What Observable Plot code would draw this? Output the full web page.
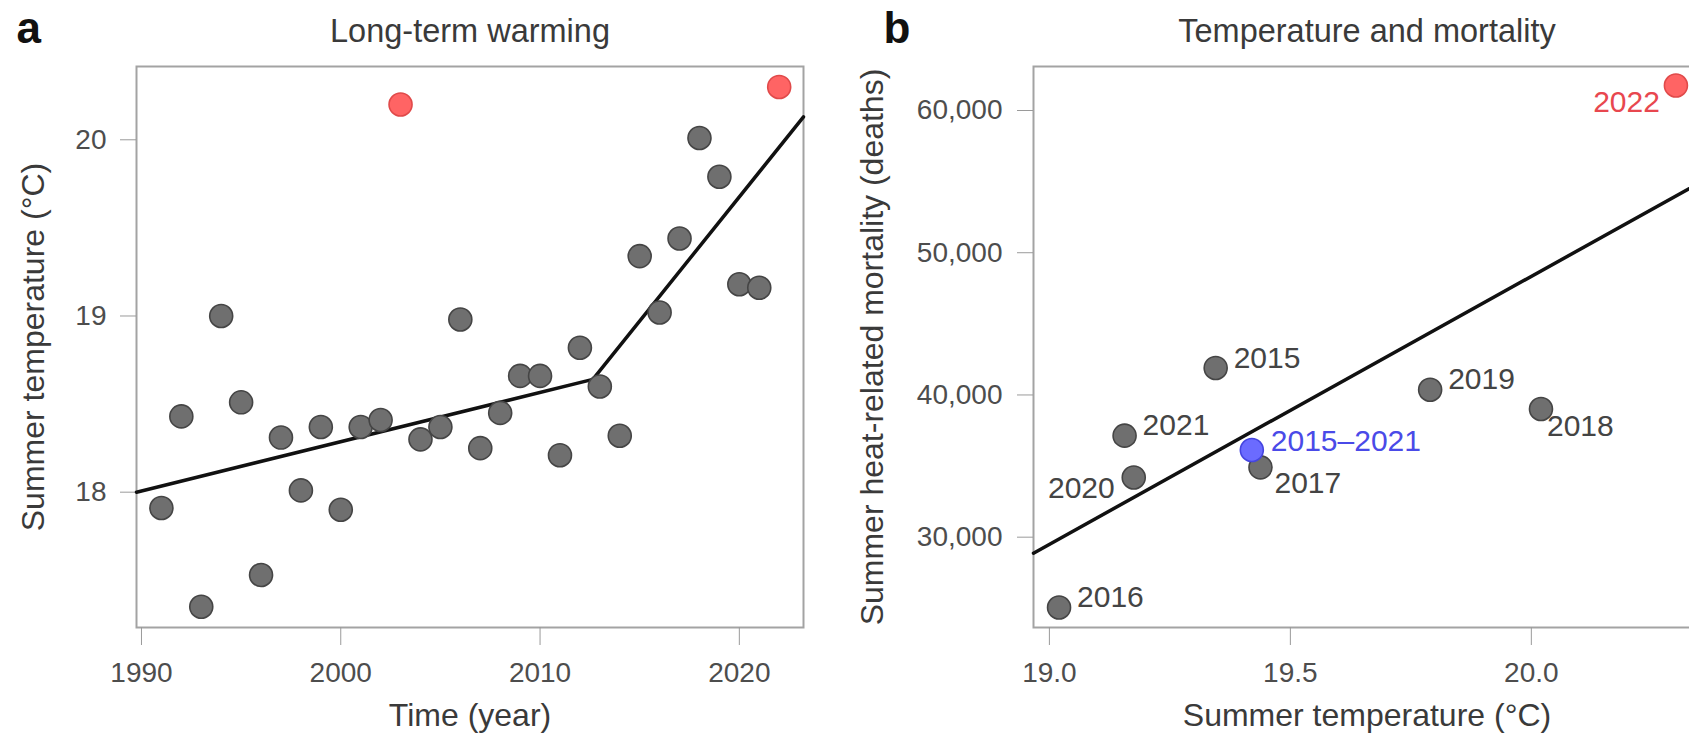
<!DOCTYPE html>
<html><head><meta charset="utf-8">
<script src="https://cdn.jsdelivr.net/npm/d3@7"></script>
<script src="https://cdn.jsdelivr.net/npm/@observablehq/plot@0.6"></script>
<style>
html,body{margin:0;padding:0;background:#fff;overflow:hidden;}
#wrap{position:relative;width:1689px;height:735px;overflow:hidden;background:#fff;}
#pa,#pb{position:absolute;top:0;}
#pa{left:0;width:845px;} #pb{left:845px;width:880px;}
#wrap svg{max-width:none !important;}
</style></head><body>
<div id="wrap"><div id="pa"></div><div id="pb"></div></div>
<script>
// ---- Panel a: long-term warming ----
const years = [1991,1992,1993,1994,1995,1996,1997,1998,1999,2000,2001,2002,2003,2004,2005,2006,2007,2008,2009,2010,2011,2012,2013,2014,2015,2016,2017,2018,2019,2020,2021,2022];
const summerTemp = [17.91,18.43,17.35,19.00,18.51,17.53,18.31,18.01,18.37,17.90,18.37,18.41,20.20,18.30,18.37,18.98,18.25,18.45,18.66,18.66,18.21,18.82,18.60,18.32,19.34,19.02,19.44,20.01,19.79,19.18,19.16,20.30];
const highlightYears = [2003, 2022];
const trendYears = [1989.75, 2012.65, 2023.22];
const trendTemps = [18.00, 18.64, 20.13];
const xTicksA = [1990, 2000, 2010, 2020];
const yTicksA = [18, 19, 20];

// ---- Panel b: temperature and mortality ----
const labelsB = ["2016","2020","2021","2015–2021","2017","2015","2019","2018","2022"];
const tempB = [19.02, 19.175, 19.156, 19.42, 19.438, 19.345, 19.79, 20.02, 20.30];
const deathsB = [25060, 34200, 37140, 36130, 34910, 41900, 40370, 39010, 61760];
const fitTemp = [18.967, 20.351];
const fitDeaths = [28875, 54950];
const xTicksB = [19.0, 19.5, 20.0];
const yTicksB = [30000, 40000, 50000, 60000];

const FONT = "'Liberation Sans', Arial, Helvetica, sans-serif";
const TICK = "#4d4d4d", TICKLINE = "#9a9a9a", TITLE = "#3a3a3a";
const GRAY = "#6f6f6f", GRAYS = "#454545", RED = "#ff6464", REDS = "#e04a4a", BLUE = "#6b6bff", BLUES = "#4545e0";

const dataA = years.map((y, i) => ({year: y, temp: summerTemp[i]}));
const trendA = trendYears.map((y, i) => ({year: y, temp: trendTemps[i]}));
const isHot = d => highlightYears.includes(d.year);

const plotA = Plot.plot({
  width: 845, height: 735,
  marginLeft: 136, marginRight: 42, marginTop: 66, marginBottom: 108,
  style: {fontFamily: FONT, fontSize: "28px", color: TICK, background: "transparent", overflow: "visible", maxWidth: "none"},
  x: {domain: [1989.75, 2023.22]},
  y: {domain: [17.232, 20.416]},
  marks: [
    Plot.frame({stroke: "#a3a3a3", strokeWidth: 2}),
    Plot.axisX({ticks: xTicksA, tickSize: 18, tickPadding: 17, tickFormat: d => String(d), stroke: TICKLINE, fill: TICK, fontSize: 28, label: null}),
    Plot.axisY({ticks: yTicksA, tickSize: 16, tickPadding: 14, tickFormat: d => String(d), stroke: TICKLINE, fill: TICK, fontSize: 28, label: null}),
    Plot.line(trendA, {x: "year", y: "temp", stroke: "#111", strokeWidth: 3.5}),
    Plot.dot(dataA, {filter: d => !isHot(d), x: "year", y: "temp", r: 11.5, fill: GRAY, stroke: GRAYS, strokeWidth: 1.6}),
    Plot.dot(dataA, {filter: isHot, x: "year", y: "temp", r: 11.5, fill: RED, stroke: REDS, strokeWidth: 1.6}),
    Plot.text(["Long-term warming"], {text: d => d, frameAnchor: "top", lineAnchor: "middle", dy: -35, fontSize: 32.5, fill: TITLE}),
    Plot.text(["a"], {text: d => d, frameAnchor: "top-left", textAnchor: "start", lineAnchor: "middle", dx: -120, dy: -38, fontSize: 44, fontWeight: "bold", fill: "#111"}),
    Plot.text(["Time (year)"], {text: d => d, frameAnchor: "bottom", lineAnchor: "middle", dy: 88, fontSize: 32, fill: TITLE}),
    Plot.text(["Summer temperature (°C)"], {text: d => d, frameAnchor: "left", textAnchor: "middle", lineAnchor: "middle", dx: -103, rotate: -90, fontSize: 32, fill: TITLE})
  ]
});
document.getElementById("pa").appendChild(plotA);

const dataB = labelsB.map((l, i) => ({label: l, temp: tempB[i], deaths: deathsB[i]}));
const fitB = fitTemp.map((t, i) => ({temp: t, deaths: fitDeaths[i]}));
const inSet = s => d => s.includes(d.label);

const plotB = Plot.plot({
  width: 880, height: 735,
  marginLeft: 188, marginRight: 25, marginTop: 66, marginBottom: 108,
  style: {fontFamily: FONT, fontSize: "28px", color: TICK, background: "transparent", overflow: "visible", maxWidth: "none"},
  x: {domain: [18.967, 20.351]},
  y: {domain: [23650, 63094]},
  marks: [
    Plot.frame({stroke: "#a3a3a3", strokeWidth: 2}),
    Plot.axisX({ticks: xTicksB, tickSize: 18, tickPadding: 17, tickFormat: d3.format(".1f"), stroke: TICKLINE, fill: TICK, fontSize: 28, label: null}),
    Plot.axisY({ticks: yTicksB, tickSize: 16, tickPadding: 15, tickFormat: d3.format(","), stroke: TICKLINE, fill: TICK, fontSize: 28, label: null}),
    Plot.line(fitB, {x: "temp", y: "deaths", stroke: "#111", strokeWidth: 3.5}),
    Plot.dot(dataB, {filter: d => d.label !== "2022" && d.label !== "2015–2021", x: "temp", y: "deaths", r: 11.5, fill: GRAY, stroke: GRAYS, strokeWidth: 1.6}),
    Plot.dot(dataB, {filter: inSet(["2022"]), x: "temp", y: "deaths", r: 11.5, fill: RED, stroke: REDS, strokeWidth: 1.6}),
    Plot.dot(dataB, {filter: inSet(["2015–2021"]), x: "temp", y: "deaths", r: 11.5, fill: BLUE, stroke: BLUES, strokeWidth: 1.6}),
    Plot.text(dataB, {filter: inSet(["2016","2021","2015","2019"]), x: "temp", y: "deaths", text: "label", textAnchor: "start", dx: 18, dy: -10, fontSize: 30, fill: "#444"}),
    Plot.text(dataB, {filter: inSet(["2015–2021"]), x: "temp", y: "deaths", text: "label", textAnchor: "start", dx: 19, dy: -9, fontSize: 30, fill: "#4a4ae8"}),
    Plot.text(dataB, {filter: inSet(["2020"]), x: "temp", y: "deaths", text: "label", textAnchor: "end", dx: -19, dy: 11, fontSize: 30, fill: "#444"}),
    Plot.text(dataB, {filter: inSet(["2017"]), x: "temp", y: "deaths", text: "label", textAnchor: "start", dx: 14, dy: 16, fontSize: 30, fill: "#444"}),
    Plot.text(dataB, {filter: inSet(["2018"]), x: "temp", y: "deaths", text: "label", textAnchor: "start", dx: 6, dy: 17, fontSize: 30, fill: "#444"}),
    Plot.text(dataB, {filter: inSet(["2022"]), x: "temp", y: "deaths", text: "label", textAnchor: "end", dx: -16, dy: 17, fontSize: 30, fill: "#e8474f"}),
    Plot.text(["Temperature and mortality"], {text: d => d, frameAnchor: "top", lineAnchor: "middle", dy: -35, fontSize: 32.5, fill: TITLE}),
    Plot.text(["b"], {text: d => d, frameAnchor: "top-left", textAnchor: "start", lineAnchor: "middle", dx: -150, dy: -38, fontSize: 44, fontWeight: "bold", fill: "#111"}),
    Plot.text(["Summer temperature (°C)"], {text: d => d, frameAnchor: "bottom", lineAnchor: "middle", dy: 88, fontSize: 32, fill: TITLE}),
    Plot.text(["Summer heat-related mortality (deaths)"], {text: d => d, frameAnchor: "left", textAnchor: "middle", lineAnchor: "middle", dx: -161, rotate: -90, fontSize: 32, fill: TITLE})
  ]
});
document.getElementById("pb").appendChild(plotB);
</script>
</body></html>
